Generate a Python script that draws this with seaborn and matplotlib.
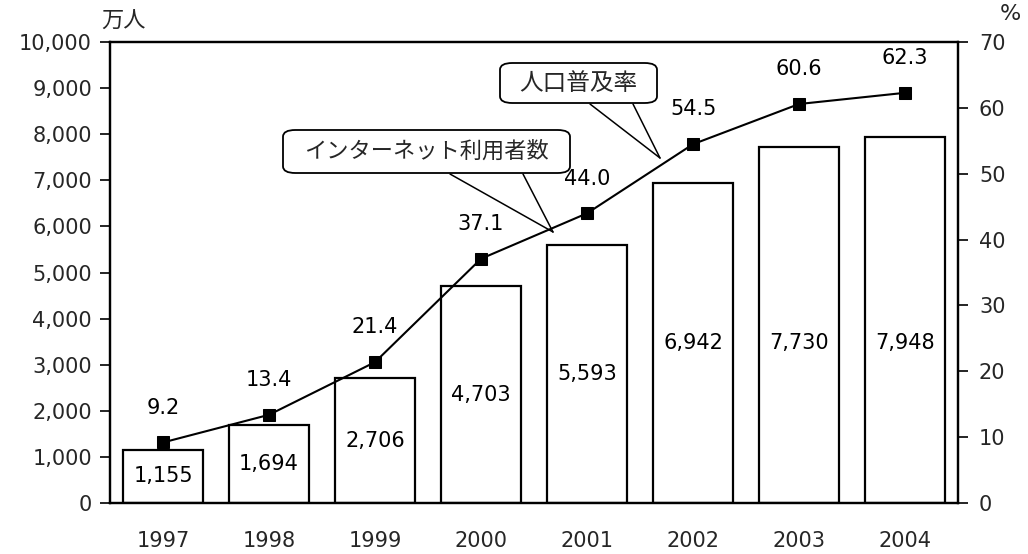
import matplotlib
matplotlib.use("Agg")
import matplotlib.pyplot as plt
import seaborn as sns
import pandas as pd
from matplotlib.patches import FancyBboxPatch

years = ["1997", "1998", "1999", "2000", "2001", "2002", "2003", "2004"]
users = [1155, 1694, 2706, 4703, 5593, 6942, 7730, 7948]
rate = [9.2, 13.4, 21.4, 37.1, 44.0, 54.5, 60.6, 62.3]
user_labels = ["1,155", "1,694", "2,706", "4,703", "5,593", "6,942", "7,730", "7,948"]
rate_labels = ["9.2", "13.4", "21.4", "37.1", "44.0", "54.5", "60.6", "62.3"]
left_ticks = list(range(0, 10001, 1000))
right_ticks = list(range(0, 71, 10))

sns.set_theme(style="white")
plt.rcParams['font.family'] = ['DejaVu Sans', 'Noto Sans CJK JP']

FS = 15
df = pd.DataFrame({"year": years, "users": users, "rate": rate})

fig = plt.figure(figsize=(10.28, 5.54), dpi=100)
ax = fig.add_axes([0.107, 0.092, 0.825, 0.832])
sns.barplot(data=df, x="year", y="users", ax=ax, color="white",
            edgecolor="black", linewidth=1.6, width=0.76, saturation=1)
ax.set_ylim(0, 10000)
ax.set_xlim(-0.5, 7.5)
ax.set_yticks(left_ticks)
ax.set_yticklabels([f"{t:,}" for t in left_ticks], fontsize=FS)
ax.tick_params(axis='y', which='both', left=True, length=7, width=1.2, color='black', pad=6)
ax.tick_params(axis='x', bottom=False, labelsize=FS, pad=14)
ax.set_xlabel("")
ax.set_ylabel("")
for s in ax.spines.values():
    s.set_color("black")
    s.set_linewidth(1.6)

for i, (v, lab) in enumerate(zip(users, user_labels)):
    ax.text(i, min(v / 2, 3480), lab, ha="center", va="center", fontsize=FS, color="black")

ax2 = ax.twinx()
sns.lineplot(x=list(range(len(years))), y=rate, ax=ax2, color="black", linewidth=1.5,
             marker="s", markersize=8, markeredgecolor="black", markerfacecolor="black")
ax2.set_ylim(0, 70)
ax2.set_yticks(right_ticks)
ax2.set_yticklabels([str(t) for t in right_ticks], fontsize=FS)
ax2.tick_params(axis='y', right=True, length=7, width=1.2, color='black', pad=8)
ax2.set_xlim(-0.5, 7.5)
for s in ax2.spines.values():
    s.set_color("black")
    s.set_linewidth(1.6)

for i, (v, lab) in enumerate(zip(rate, rate_labels)):
    ax2.annotate(lab, (i, v), xytext=(0, 25), textcoords="offset points",
                 ha="center", va="center", fontsize=FS, color="black")

fig.text(124 / 1028, 1 - 22 / 554, "万人", fontsize=16, ha="center", va="center")
fig.text(1010 / 1028, 1 - 14 / 554, "%", fontsize=16, ha="center", va="center")

# callouts (figure pixel coordinates)
def px(x, y):
    return (x / 1028, 1 - y / 554)

def callout(x0, y0, x1, y1, text, p1, p2, tip, fs):
    bx, by = px(x0, y1)
    w = (x1 - x0) / 1028
    h = (y1 - y0) / 554
    box = FancyBboxPatch((bx, by), w, h, boxstyle="round,pad=0,rounding_size=0.012",
                         transform=fig.transFigure, facecolor="white", edgecolor="black",
                         linewidth=1.3, zorder=10)
    fig.add_artist(box)
    fig.add_artist(plt.Line2D([px(*p1)[0], px(*tip)[0]], [px(*p1)[1], px(*tip)[1]],
                              transform=fig.transFigure, color="black", linewidth=1.1, zorder=9))
    fig.add_artist(plt.Line2D([px(*p2)[0], px(*tip)[0]], [px(*p2)[1], px(*tip)[1]],
                              transform=fig.transFigure, color="black", linewidth=1.1, zorder=9))
    cx, cy = px((x0 + x1) / 2, (y0 + y1) / 2)
    fig.text(cx, cy, text, ha="center", va="center", fontsize=fs, zorder=11)

callout(283, 130, 570, 173, "インターネット利用者数", (450, 174), (523, 174), (553, 232), 16)
callout(500, 63, 657, 103, "人口普及率", (590, 104), (633, 104), (660, 158), 17)

fig.savefig("out.png", dpi=100, facecolor="white")
